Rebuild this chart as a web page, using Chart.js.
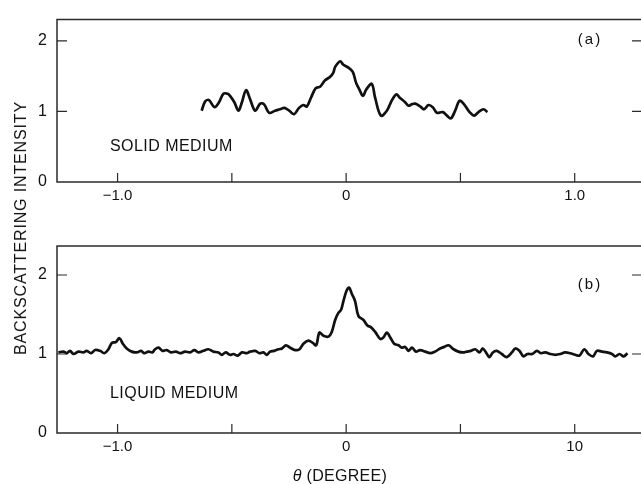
<!DOCTYPE html>
<html>
<head>
<meta charset="utf-8">
<script src="https://cdn.jsdelivr.net/npm/chart.js@4"></script>
<style>
  html,body{margin:0;padding:0;background:#fff;overflow:hidden;}
  #wrap{position:relative;width:641px;height:484px;background:#fff;font-family:'Liberation Sans',Arial,sans-serif;color:#111;}
  .abs{position:absolute;white-space:nowrap;line-height:1;}
  canvas{position:absolute;left:0;}
</style>
</head>
<body>
<div id="wrap">
  <canvas id="c1" width="641" height="215" style="top:0px"></canvas>
  <canvas id="c2" width="641" height="269" style="top:215px"></canvas>
  <div class="abs" id="ytitle" style="left:21px;top:228px;font-size:16px;letter-spacing:0.85px;transform:translate(-50%,-50%) rotate(-90deg);"></div>
  <div class="abs" id="xtitle" style="left:340px;top:476px;font-size:16px;letter-spacing:0.3px;transform:translate(-50%,-50%);"></div>
  <div class="abs" id="labA" style="left:590px;top:38px;font-size:15px;letter-spacing:2px;transform:translate(-50%,-50%);"></div>
  <div class="abs" id="labB" style="left:590px;top:283px;font-size:15px;letter-spacing:2px;transform:translate(-50%,-50%);"></div>
  <div class="abs" id="medA" style="left:110px;top:146px;font-size:16px;letter-spacing:0.45px;transform:translateY(-50%);"></div>
  <div class="abs" id="medB" style="left:110px;top:393px;font-size:16px;letter-spacing:0.45px;transform:translateY(-50%);"></div>
</div>
<script>
// ---------- data ----------
const solidTheta = [-0.632,-0.617,-0.600,-0.576,-0.556,-0.537,-0.518,-0.508,-0.489,-0.471,-0.456,-0.438,-0.420,-0.398,-0.376,-0.359,-0.337,-0.311,-0.289,-0.270,-0.249,-0.228,-0.206,-0.187,-0.172,-0.153,-0.133,-0.114,-0.092,-0.070,-0.056,-0.048,-0.026,-0.012,0.010,0.029,0.044,0.058,0.073,0.088,0.112,0.127,0.152,0.178,0.196,0.219,0.236,0.258,0.273,0.287,0.302,0.324,0.341,0.360,0.379,0.397,0.423,0.441,0.458,0.477,0.496,0.516,0.540,0.560,0.579,0.601,0.618];
const solidIntensity = [1.01,1.14,1.16,1.06,1.13,1.25,1.25,1.22,1.13,1.01,1.13,1.30,1.17,1.01,1.11,1.10,0.98,1.01,1.03,1.05,1.01,0.96,1.05,1.09,1.07,1.20,1.33,1.35,1.44,1.49,1.55,1.63,1.71,1.66,1.62,1.56,1.40,1.31,1.22,1.31,1.39,1.19,0.94,1.01,1.13,1.24,1.19,1.13,1.08,1.10,1.11,1.07,1.03,1.09,1.06,0.98,0.99,0.94,0.90,1.01,1.15,1.10,0.99,0.94,0.99,1.03,0.99];

const liquidTheta = [-1.259,-1.237,-1.222,-1.208,-1.193,-1.171,-1.150,-1.135,-1.116,-1.098,-1.077,-1.058,-1.040,-1.025,-1.008,-0.992,-0.977,-0.960,-0.938,-0.916,-0.897,-0.883,-0.865,-0.848,-0.836,-0.821,-0.804,-0.785,-0.766,-0.745,-0.726,-0.705,-0.683,-0.664,-0.646,-0.625,-0.603,-0.581,-0.559,-0.544,-0.527,-0.508,-0.493,-0.474,-0.456,-0.435,-0.420,-0.398,-0.379,-0.362,-0.347,-0.333,-0.315,-0.296,-0.281,-0.263,-0.245,-0.223,-0.204,-0.187,-0.165,-0.146,-0.131,-0.117,-0.099,-0.077,-0.063,-0.048,-0.034,-0.022,-0.012,0.003,0.013,0.025,0.039,0.054,0.076,0.093,0.108,0.127,0.149,0.163,0.178,0.193,0.210,0.229,0.244,0.258,0.273,0.288,0.305,0.324,0.346,0.368,0.389,0.411,0.429,0.448,0.470,0.491,0.511,0.528,0.546,0.565,0.583,0.598,0.616,0.627,0.642,0.659,0.681,0.703,0.725,0.740,0.758,0.776,0.793,0.813,0.835,0.852,0.871,0.893,0.915,0.937,0.958,0.980,1.002,1.021,1.042,1.060,1.080,1.097,1.119,1.141,1.163,1.177,1.196,1.214,1.231];
const liquidIntensity = [1.02,1.03,1.01,1.04,1.00,1.03,1.02,1.04,1.01,1.05,1.04,1.01,1.06,1.14,1.15,1.20,1.13,1.07,1.03,1.02,1.04,1.01,1.03,1.02,1.06,1.08,1.04,1.05,1.02,1.03,1.01,1.03,1.02,1.05,1.02,1.04,1.06,1.03,1.02,0.99,1.02,0.99,1.00,0.98,1.02,1.01,1.03,1.04,1.01,1.02,0.99,1.03,1.04,1.06,1.07,1.11,1.08,1.05,1.06,1.13,1.17,1.14,1.11,1.27,1.23,1.22,1.28,1.43,1.52,1.56,1.67,1.81,1.84,1.76,1.67,1.48,1.43,1.36,1.34,1.28,1.19,1.21,1.27,1.21,1.13,1.11,1.08,1.09,1.04,1.08,1.03,1.05,1.03,1.01,1.03,1.07,1.09,1.11,1.06,1.03,1.02,1.03,1.04,1.06,1.02,1.07,1.00,0.96,1.02,1.04,1.00,0.96,1.02,1.07,1.04,0.97,1.00,1.00,1.04,1.01,1.02,1.00,0.99,1.00,1.02,1.01,0.99,0.98,1.06,1.00,0.97,1.04,1.03,1.02,1.00,0.97,1.00,0.97,1.01];

const xTickValues = [-1.0,-0.5,0,0.5,1.0];
const xTickLabelsTop = ['−1.0','','0','','1.0'];
const xTickLabelsBottom = ['−1.0','','0','','10'];
const yTickValues = [0,1,2];
const yTickLabels = ['0','1','2'];

const yAxisTitle = 'BACKSCATTERING INTENSITY';
const xAxisTitle = '(DEGREE)';
const panelLabels = ['(a)','(b)'];
const mediumLabels = ['SOLID MEDIUM','LIQUID MEDIUM'];

// ---------- text ----------
document.getElementById('ytitle').textContent = yAxisTitle;
document.getElementById('xtitle').innerHTML = '<i>θ</i> ' + xAxisTitle;
document.getElementById('labA').textContent = panelLabels[0];
document.getElementById('labB').textContent = panelLabels[1];
document.getElementById('medA').textContent = mediumLabels[0];
document.getElementById('medB').textContent = mediumLabels[1];

// ---------- chart ----------
Chart.defaults.font.family = "'Liberation Sans', Arial, sans-serif";
Chart.defaults.color = '#111';

const framePlugin = {
  id: 'frame',
  afterDatasetsDraw(chart) {
    const {ctx, chartArea: a, scales: {x, y}} = chart;
    ctx.save();
    ctx.strokeStyle = '#2a2a2a';
    ctx.lineWidth = 1.5;
    ctx.beginPath();
    ctx.moveTo(a.right + 2, a.top);
    ctx.lineTo(a.left, a.top);
    ctx.lineTo(a.left, a.bottom);
    ctx.lineTo(a.right + 2, a.bottom);
    ctx.stroke();
    ctx.lineWidth = 1.2;
    ctx.beginPath();
    y.ticks.forEach(t => {
      if (t.value === 0) return;
      const py = y.getPixelForValue(t.value);
      ctx.moveTo(a.left, py); ctx.lineTo(a.left + 10, py);
      ctx.moveTo(a.right, py); ctx.lineTo(a.right - 9, py);
    });
    x.ticks.forEach(t => {
      const px = x.getPixelForValue(t.value);
      ctx.moveTo(px, a.bottom); ctx.lineTo(px, a.bottom - 9);
    });
    ctx.stroke();
    ctx.restore();
  }
};

function makeChart(id, thetas, vals, xLabels, yMax, padTop, xAxisHeight) {
  const pts = thetas.map((t, i) => ({x: t, y: vals[i]}));
  return new Chart(document.getElementById(id), {
    type: 'line',
    data: { datasets: [{
      data: pts,
      borderColor: '#111',
      borderWidth: 2.7,
      pointRadius: 0,
      tension: 0.35,
      fill: false
    }]},
    options: {
      responsive: false,
      animation: false,
      layout: { padding: { left: 0, right: 0, top: padTop, bottom: 0 } },
      plugins: { legend: { display: false }, tooltip: { enabled: false } },
      scales: {
        x: {
          type: 'linear',
          min: -1.265, max: 1.29,
          grid: { display: false, drawTicks: false },
          border: { display: false },
          afterBuildTicks: s => { s.ticks = xTickValues.map(v => ({value: v})); },
          afterFit: s => { s.height = xAxisHeight; },
          ticks: {
            autoSkip: false, maxRotation: 0, padding: 5,
            font: { size: 15 },
            callback: (v) => { const i = xTickValues.indexOf(v); return i >= 0 ? xLabels[i] : ''; }
          }
        },
        y: {
          type: 'linear',
          min: 0, max: yMax,
          grid: { display: false, drawTicks: false },
          border: { display: false },
          afterBuildTicks: s => { s.ticks = yTickValues.map(v => ({value: v})); },
          afterFit: s => { s.width = 57; },
          ticks: {
            padding: 10,
            font: { size: 16 },
            callback: (v) => { const i = yTickValues.indexOf(v); return i >= 0 ? yTickLabels[i] : ''; }
          }
        }
      }
    },
    plugins: [framePlugin]
  });
}

// top: chart area 11..182 ; bottom: chart area (215+31)=246 .. (215+218)=433
makeChart('c1', solidTheta, solidIntensity, xTickLabelsTop, 2.30, 11, 33);
makeChart('c2', liquidTheta, liquidIntensity, xTickLabelsBottom, 2.367, 31, 51);
</script>
</body>
</html>
